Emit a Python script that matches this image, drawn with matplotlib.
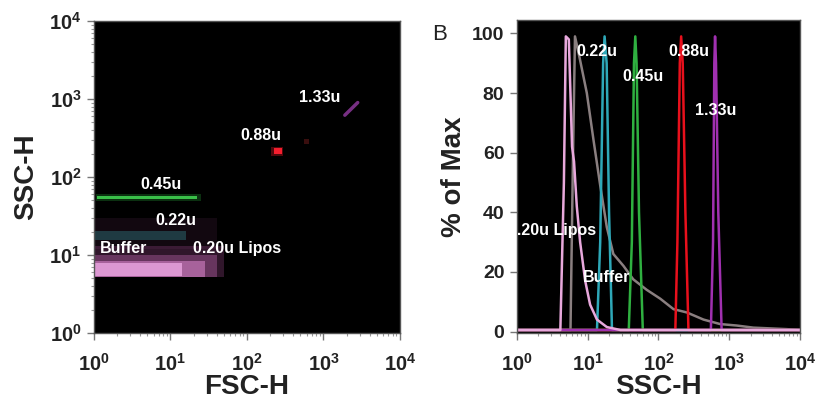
import matplotlib
matplotlib.use("Agg")
import matplotlib.pyplot as plt
from matplotlib.ticker import FuncFormatter, LogLocator, NullFormatter
import numpy as np

plt.rcParams['font.family'] = ['Liberation Sans', 'DejaVu Sans']
plt.rcParams['mathtext.fontset'] = 'custom'
plt.rcParams['mathtext.rm'] = 'Liberation Sans:bold'
plt.rcParams['mathtext.bf'] = 'Liberation Sans:bold'
plt.rcParams['mathtext.it'] = 'Liberation Sans:bold'

# ---------------- Panel A: FSC-H vs SSC-H populations (regions) ----------------
# each region: x range, y range, colour, opacity
region_x_lo = [1.0, 1.0, 1.0, 1.0, 1.0, 1.0, 1.05, 1.1, 205, 225, 560]
region_x_hi = [50, 40, 28, 14, 40, 16, 25, 22, 300, 285, 640]
region_y_lo = [5.2, 5.3, 5.3, 5.4, 12, 15.5, 49, 51.5, 188, 198, 265]
region_y_hi = [13, 10, 8.5, 7.8, 30, 20.5, 60, 57, 245, 232, 310]
region_color = ['#a04a90', '#d070c0', '#e890d8', '#f4b0ea', '#7a3a70', '#3a9aa0', '#208a30', '#40d050', '#a01018', '#ff2030', '#802020']
region_alpha = [0.3, 0.35, 0.5, 0.7, 0.15, 0.35, 0.35, 0.9, 0.5, 0.95, 0.45]

# 1.33u population (diagonal streak)
streak_x = [1900, 2800]
streak_y = [620, 900]

labelsA = ['1.33u', '0.88u', '0.45u', '0.22u', 'Buffer', '0.20u Lipos']
labelsA_x = [900, 152, 7.5, 11.8, 2.4, 74]
labelsA_y = [1050, 336, 79, 28, 12, 12]

# ---------------- Panel B: SSC-H histograms ----------------
pink_x = [1, 4.1, 4.6, 4.9, 5.4, 6.0, 6.4, 7.0, 7.8, 9.2, 10.8, 13.5, 18.6, 29, 10000]
pink_y = [0.5, 0.5, 50, 99, 98, 62, 57, 42, 30, 17, 9, 4, 1.5, 0.5, 0.5]
gray_x = [1, 5.7, 6.2, 6.6, 7.8, 9.7, 12.1, 15, 18.6, 23, 32, 44, 68, 106, 163, 251, 433, 743, 1280, 2190, 6460, 10000]
gray_y = [0.5, 0.5, 60, 99, 91, 80, 64, 49, 35, 26, 22, 17.5, 14, 11, 7.5, 6.4, 4, 2.5, 2, 1.3, 0.8, 0.5]
teal_x = [1, 13.5, 15, 16.5, 17.3, 18.5, 20, 22, 10000]
teal_y = [0.5, 0.5, 30, 90, 99, 90, 40, 0.5, 0.5]
green_x = [1, 38, 42, 45, 47, 49, 53, 60, 10000]
green_y = [0.5, 0.5, 30, 90, 99, 90, 40, 0.5, 0.5]
red_x = [1, 173, 185, 200, 209, 220, 240, 265, 10000]
red_y = [0.5, 0.5, 30, 90, 99, 90, 40, 0.5, 0.5]
mag_x = [1, 550, 590, 615, 630, 650, 700, 780, 10000]
mag_y = [0.5, 0.5, 30, 90, 99, 90, 40, 0.5, 0.5]

labelsB = ['0.22u', '0.45u', '0.88u', '1.33u', 'Buffer']
labelsB_x = [13.6, 61, 265, 650, 18.6]
labelsB_y = [94, 85.5, 94, 74, 18]
lipos_label = '0.20u Lipos'
lipos_x, lipos_y = 0.74, 34

yticksB = [0, 20, 40, 60, 80, 100]

fig = plt.figure(figsize=(8.2, 4.05), dpi=100)
fig.patch.set_facecolor('white')

axA = fig.add_axes([94/820, 72/405, 306/820, 312/405])
axB = fig.add_axes([517/820, 72/405, 283/820, 313/405])

logfmt = FuncFormatter(lambda v, p: r'$\mathbf{10^{%d}}$' % int(round(np.log10(v))) if v > 0 else '')

for ax in (axA, axB):
    ax.set_facecolor('black')
    ax.set_xscale('log')
    ax.set_xlim(1, 1e4)
    ax.xaxis.set_major_locator(LogLocator(base=10, numticks=10))
    ax.xaxis.set_minor_locator(LogLocator(base=10, subs=np.arange(2, 10), numticks=10))
    ax.xaxis.set_major_formatter(logfmt)
    ax.xaxis.set_minor_formatter(NullFormatter())
    for s in ax.spines.values():
        s.set_color('#555555')
        s.set_linewidth(1)
    ax.tick_params(which='major', direction='out', length=5, width=1, color='#777777',
                   labelsize=14.5, labelcolor='#222222', pad=4)
    ax.tick_params(which='minor', direction='out', length=2.5, width=0.8, color='#999999')
    ax.tick_params(axis='x', which='major', pad=9)

# Panel A
axA.set_yscale('log')
axA.set_ylim(1, 1e4)
axA.yaxis.set_major_locator(LogLocator(base=10, numticks=10))
axA.yaxis.set_minor_locator(LogLocator(base=10, subs=np.arange(2, 10), numticks=10))
axA.yaxis.set_major_formatter(logfmt)
axA.yaxis.set_minor_formatter(NullFormatter())

for xl, xh, yl, yh, c, a in zip(region_x_lo, region_x_hi, region_y_lo, region_y_hi, region_color, region_alpha):
    axA.fill_between([xl, xh], [yl, yl], [yh, yh], color=c, alpha=a, linewidth=0)
axA.plot(streak_x, streak_y, color='#a040b0', linewidth=2.5, alpha=0.75, solid_capstyle='round')

for t, x, y in zip(labelsA, labelsA_x, labelsA_y):
    axA.text(x, y, t, color='white', fontsize=11.5, fontweight='bold', ha='center', va='center')

axA.set_xlabel('FSC-H', fontsize=20, fontweight='bold', color='#222222', labelpad=0)
axA.set_ylabel('SSC-H', fontsize=20, fontweight='bold', color='#222222', labelpad=7)

# Panel B
axB.set_ylim(-0.5, 104.5)
axB.set_yticks(yticksB)
axB.set_yticklabels([str(v) for v in yticksB], fontweight='bold', fontsize=14)

series = [(gray_x, gray_y, '#8a7f80'), (teal_x, teal_y, '#2ea8b8'), (green_x, green_y, '#2fb040'),
          (red_x, red_y, '#e8101c'), (mag_x, mag_y, '#a030b0'), (pink_x, pink_y, '#e8a8dc')]
for xs, ys, c in series:
    axB.plot(xs, ys, color=c, linewidth=1.8)

for t, x, y in zip(labelsB, labelsB_x, labelsB_y):
    axB.text(x, y, t, color='white', fontsize=11.5, fontweight='bold', ha='center', va='center')
axB.text(lipos_x, lipos_y, lipos_label, color='white', fontsize=11.5, fontweight='bold',
         ha='left', va='center', clip_on=True)

axB.set_xlabel('SSC-H', fontsize=20, fontweight='bold', color='#222222', labelpad=0)
axB.set_ylabel('% of Max', fontsize=20, fontweight='bold', color='#222222', labelpad=4)

fig.text(440/820, 1 - 35/405, 'B', fontsize=16, color='#222222', ha='center', va='center')

fig.savefig('out.png', dpi=100, facecolor='white')
